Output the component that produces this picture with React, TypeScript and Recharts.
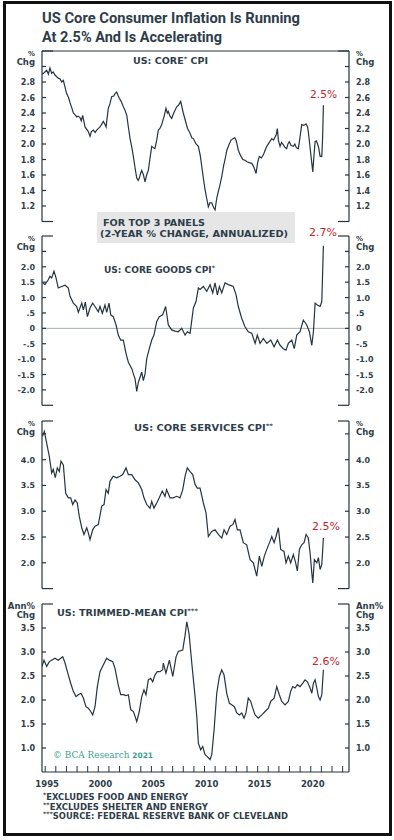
import React from "react";
import { LineChart, Line, XAxis, YAxis, ReferenceLine } from "recharts";

// values: [year, % change]
const coreCpi: [number, number][] = [
  [1994.7, 2.9], [1994.9, 2.92], [1995.14, 2.95], [1995.3, 2.9], [1995.45, 2.98], [1995.61, 2.91],
  [1995.75, 2.93], [1995.92, 2.89], [1996.23, 2.85], [1996.4, 2.84], [1996.55, 2.8], [1996.71, 2.82],
  [1997.02, 2.65], [1997.2, 2.6], [1997.34, 2.53], [1997.5, 2.47], [1997.65, 2.4], [1997.8, 2.38],
  [1997.97, 2.35], [1998.1, 2.36], [1998.28, 2.34], [1998.4, 2.3], [1998.53, 2.37], [1998.75, 2.22],
  [1999.06, 2.16], [1999.22, 2.1], [1999.35, 2.16], [1999.53, 2.18], [1999.7, 2.15], [1999.85, 2.18],
  [2000.16, 2.22], [2000.3, 2.25], [2000.47, 2.29], [2000.6, 2.26], [2000.73, 2.22], [2000.94, 2.46],
  [2001.1, 2.52], [2001.26, 2.61], [2001.45, 2.62], [2001.57, 2.65], [2001.73, 2.67], [2001.85, 2.63],
  [2001.98, 2.59], [2002.15, 2.55], [2002.36, 2.48], [2002.5, 2.44], [2002.68, 2.37], [2002.85, 2.2],
  [2002.99, 2.07], [2003.15, 1.96], [2003.3, 1.84], [2003.45, 1.7], [2003.62, 1.56], [2003.75, 1.53],
  [2003.86, 1.56], [2004.0, 1.63], [2004.09, 1.66], [2004.25, 1.6], [2004.4, 1.51], [2004.55, 1.6],
  [2004.71, 1.66], [2004.85, 1.8], [2005.03, 1.97], [2005.2, 1.95], [2005.33, 1.94], [2005.5, 2.05],
  [2005.65, 2.18], [2005.8, 2.2], [2005.97, 2.25], [2006.2, 2.36], [2006.37, 2.46], [2006.5, 2.4],
  [2006.59, 2.42], [2006.75, 2.36], [2006.91, 2.33], [2007.1, 2.4], [2007.38, 2.48], [2007.55, 2.5],
  [2007.76, 2.55], [2008.0, 2.4], [2008.2, 2.3], [2008.4, 2.2], [2008.64, 2.14], [2008.8, 2.08],
  [2008.95, 2.07], [2009.2, 2.0], [2009.42, 1.97], [2009.6, 1.85], [2009.74, 1.71], [2009.9, 1.55],
  [2010.05, 1.41], [2010.2, 1.3], [2010.36, 1.19], [2010.5, 1.24], [2010.68, 1.24], [2010.85, 1.18],
  [2010.99, 1.15], [2011.15, 1.3], [2011.3, 1.39], [2011.45, 1.47], [2011.62, 1.58], [2011.8, 1.72],
  [2011.93, 1.8], [2012.1, 1.92], [2012.3, 1.99], [2012.5, 2.05], [2012.71, 2.07], [2012.85, 2.08],
  [2012.97, 2.05], [2013.18, 1.92], [2013.4, 1.85], [2013.6, 1.8], [2013.81, 1.79], [2014.0, 1.77],
  [2014.2, 1.76], [2014.45, 1.75], [2014.65, 1.7], [2014.85, 1.62], [2015.0, 1.76], [2015.16, 1.84],
  [2015.35, 1.82], [2015.54, 1.86], [2015.7, 1.92], [2015.86, 1.97], [2016.1, 2.02], [2016.33, 2.07],
  [2016.5, 2.05], [2016.64, 2.09], [2016.75, 2.12], [2016.86, 2.2], [2016.95, 2.05], [2017.11, 1.97],
  [2017.25, 2.02], [2017.42, 1.99], [2017.55, 1.96], [2017.73, 1.94], [2017.85, 2.0], [2017.98, 2.03],
  [2018.15, 1.98], [2018.36, 1.97], [2018.5, 2.0], [2018.65, 1.95], [2018.83, 1.94], [2018.95, 2.05],
  [2019.15, 2.25], [2019.35, 2.24], [2019.56, 2.26], [2019.7, 2.22], [2019.77, 2.16], [2019.9, 2.0],
  [2020.02, 1.85], [2020.1, 1.75], [2020.19, 1.64], [2020.3, 1.85], [2020.41, 2.03], [2020.52, 2.04],
  [2020.62, 2.01], [2020.75, 1.95], [2020.88, 1.84], [2021.04, 1.84], [2021.12, 2.1], [2021.19, 2.5],
];

const coreGoods: [number, number][] = [
  [1994.77, 1.48], [1994.98, 1.42], [1995.29, 1.58], [1995.45, 1.69], [1995.61, 1.64], [1995.83, 1.86],
  [1996.02, 1.64], [1996.23, 1.31], [1996.55, 1.36], [1996.87, 1.4], [1997.18, 1.31], [1997.34, 1.04],
  [1997.65, 0.82], [1997.97, 0.71], [1998.12, 0.52], [1998.44, 0.82], [1998.59, 0.6], [1998.78, 0.85],
  [1998.97, 0.38], [1999.22, 0.66], [1999.47, 0.82], [1999.69, 0.71], [2000.0, 0.54], [2000.16, 0.71],
  [2000.38, 0.49], [2000.63, 0.76], [2000.79, 0.52], [2001.01, 0.82], [2001.17, 0.44], [2001.41, 0.38],
  [2001.67, 0.11], [2001.88, -0.22], [2002.11, -0.38], [2002.36, -0.38], [2002.61, -0.82],
  [2002.83, -1.1], [2003.15, -1.31], [2003.3, -1.48], [2003.46, -1.64], [2003.62, -2.05],
  [2003.77, -1.75], [2003.93, -1.59], [2004.09, -1.42], [2004.24, -1.7], [2004.4, -1.48],
  [2004.56, -0.98], [2004.8, -0.66], [2005.03, -0.38], [2005.24, -0.22], [2005.5, 0.22],
  [2005.74, 0.38], [2006.06, 0.44], [2006.34, 0.71], [2006.59, 0.11], [2006.91, -0.05],
  [2007.22, -0.09], [2007.53, -0.11], [2007.85, 0.0], [2008.17, -0.22], [2008.38, -0.11],
  [2008.64, -0.16], [2008.95, 0.66], [2009.2, 0.87], [2009.42, 1.31], [2009.58, 1.26], [2009.89, 1.36],
  [2010.21, 1.2], [2010.52, 1.42], [2010.77, 1.15], [2010.99, 1.48], [2011.21, 1.09], [2011.4, 1.36],
  [2011.62, 1.15], [2011.93, 1.48], [2012.24, 1.42], [2012.71, 1.36], [2012.97, 1.09], [2013.18, 0.71],
  [2013.5, 0.33], [2013.81, 0.05], [2014.12, -0.11], [2014.45, -0.16], [2014.76, -0.49],
  [2014.97, -0.22], [2015.23, -0.49], [2015.54, -0.33], [2015.86, -0.49], [2016.23, -0.38],
  [2016.55, -0.6], [2016.86, -0.38], [2017.11, -0.55], [2017.42, -0.66], [2017.67, -0.71],
  [2017.89, -0.49], [2018.21, -0.38], [2018.45, -0.66], [2018.68, -0.22], [2018.99, -0.11],
  [2019.3, 0.27], [2019.62, 0.11], [2019.87, -0.11], [2020.1, -0.55], [2020.25, -0.11], [2020.41, 0.82],
  [2020.62, 0.76], [2020.88, 0.71], [2021.04, 0.87], [2021.19, 2.68],
];

const coreServices: [number, number][] = [
  [1994.73, 4.45], [1994.92, 4.55], [1995.14, 4.32], [1995.39, 4.06], [1995.61, 3.74], [1995.76, 3.81],
  [1995.95, 3.65], [1996.14, 3.84], [1996.33, 3.77], [1996.49, 3.97], [1996.71, 3.9], [1996.93, 3.35],
  [1997.18, 3.26], [1997.4, 3.26], [1997.59, 3.13], [1997.81, 3.22], [1998.02, 3.16], [1998.21, 2.9],
  [1998.44, 2.68], [1998.65, 2.55], [1998.91, 2.68], [1999.06, 2.58], [1999.22, 2.45], [1999.47, 2.64],
  [1999.69, 2.71], [2000.0, 2.74], [2000.32, 3.1], [2000.54, 3.13], [2000.73, 3.42], [2000.94, 3.35],
  [2001.1, 3.58], [2001.41, 3.68], [2001.73, 3.65], [2002.04, 3.68], [2002.3, 3.71], [2002.61, 3.84],
  [2002.83, 3.71], [2003.15, 3.71], [2003.46, 3.61], [2003.77, 3.55], [2004.09, 3.42], [2004.3, 3.26],
  [2004.56, 3.13], [2004.87, 3.06], [2005.03, 3.19], [2005.24, 3.06], [2005.5, 3.16], [2005.74, 3.26],
  [2006.02, 3.39], [2006.28, 3.29], [2006.43, 3.42], [2006.75, 3.26], [2007.06, 3.26], [2007.38, 3.29],
  [2007.69, 3.26], [2007.95, 3.42], [2008.17, 3.68], [2008.38, 3.84], [2008.64, 3.77], [2008.89, 3.71],
  [2009.11, 3.52], [2009.32, 3.45], [2009.58, 3.45], [2009.89, 3.16], [2010.14, 2.97], [2010.36, 2.51],
  [2010.68, 2.61], [2010.99, 2.64], [2011.3, 2.55], [2011.62, 2.48], [2011.84, 2.64], [2012.09, 2.55],
  [2012.4, 2.71], [2012.66, 2.74], [2012.87, 2.84], [2013.09, 2.64], [2013.34, 2.64], [2013.65, 2.39],
  [2013.97, 2.35], [2014.29, 2.06], [2014.6, 2.0], [2014.91, 1.74], [2015.16, 2.13], [2015.39, 1.93],
  [2015.63, 2.13], [2015.86, 2.26], [2016.17, 2.42], [2016.33, 2.51], [2016.55, 2.39], [2016.73, 2.51],
  [2016.95, 2.68], [2017.17, 2.26], [2017.48, 2.22], [2017.67, 2.0], [2017.89, 2.13], [2018.11, 2.0],
  [2018.36, 2.16], [2018.58, 2.0], [2018.74, 1.84], [2018.93, 2.26], [2019.15, 2.35], [2019.37, 2.39],
  [2019.56, 2.55], [2019.77, 2.48], [2019.94, 2.19], [2020.1, 1.8], [2020.19, 1.61], [2020.34, 2.06],
  [2020.57, 2.0], [2020.72, 2.1], [2020.88, 1.87], [2021.04, 1.97], [2021.19, 2.48],
];

const trimmedMean: [number, number][] = [
  [1994.7, 2.7], [1994.89, 2.83], [1995.14, 2.7], [1995.39, 2.8], [1995.61, 2.83], [1995.92, 2.87],
  [1996.23, 2.83], [1996.46, 2.87], [1996.65, 2.9], [1996.87, 2.77], [1997.18, 2.52], [1997.4, 2.35],
  [1997.65, 2.18], [1997.9, 2.07], [1998.12, 2.11], [1998.37, 2.14], [1998.59, 2.04], [1998.84, 1.86],
  [1999.06, 1.83], [1999.29, 1.76], [1999.47, 1.69], [1999.69, 1.86], [1999.91, 2.28], [2000.16, 2.59],
  [2000.47, 2.73], [2000.79, 2.87], [2001.04, 2.83], [2001.36, 2.8], [2001.57, 2.66], [2001.88, 2.31],
  [2002.11, 2.11], [2002.36, 2.11], [2002.61, 2.09], [2002.83, 2.11], [2003.05, 1.8], [2003.3, 1.76],
  [2003.46, 1.66], [2003.62, 1.55], [2003.86, 1.76], [2004.09, 2.07], [2004.3, 2.21], [2004.49, 2.11],
  [2004.71, 2.42], [2004.93, 2.45], [2005.12, 2.38], [2005.33, 2.52], [2005.55, 2.59], [2005.81, 2.59],
  [2006.06, 2.63], [2006.12, 2.77], [2006.37, 2.56], [2006.69, 2.83], [2007.01, 2.49], [2007.32, 2.9],
  [2007.53, 3.01], [2007.95, 3.04], [2008.17, 3.35], [2008.33, 3.63], [2008.54, 3.39], [2008.8, 2.77],
  [2009.11, 2.07], [2009.27, 1.66], [2009.42, 1.1], [2009.64, 0.96], [2009.83, 1.03], [2010.05, 0.86],
  [2010.26, 0.82], [2010.52, 0.76], [2010.68, 0.86], [2010.9, 1.38], [2011.15, 2.14], [2011.4, 2.49],
  [2011.62, 2.63], [2011.84, 2.52], [2012.09, 2.14], [2012.34, 1.93], [2012.56, 1.9], [2012.81, 1.86],
  [2013.03, 1.73], [2013.28, 1.69], [2013.5, 1.73], [2013.72, 1.62], [2013.9, 1.73], [2014.12, 2.04],
  [2014.35, 1.97], [2014.54, 1.83], [2014.76, 1.69], [2015.06, 1.62], [2015.39, 1.69], [2015.7, 1.76],
  [2016.01, 1.83], [2016.23, 1.97], [2016.55, 2.04], [2016.8, 2.28], [2017.04, 2.11], [2017.27, 1.97],
  [2017.58, 1.9], [2017.89, 1.97], [2018.11, 2.18], [2018.3, 2.28], [2018.52, 2.25], [2018.74, 2.32],
  [2018.99, 2.28], [2019.25, 2.35], [2019.46, 2.42], [2019.68, 2.38], [2019.94, 2.25], [2020.1, 2.14],
  [2020.25, 2.35], [2020.41, 2.42], [2020.57, 2.25], [2020.72, 2.07], [2020.88, 2.0], [2021.04, 2.11],
  [2021.19, 2.63],
];

const yearTicks = Array.from({ length: 29 }, (_, i) => 1995 + i);
const X_DOMAIN: [number, number] = [1994.7, 2023.6];

const cpiTicks = [1.0, 1.2, 1.4, 1.6, 1.8, 2.0, 2.2, 2.4, 2.6, 2.8, 3.0, 3.2];
const goodsTicks = [-2.5, -2.0, -1.5, -1.0, -0.5, 0, 0.5, 1.0, 1.5, 2.0, 2.5, 3.0];
const servicesTicks = [1.5, 2.0, 2.5, 3.0, 3.5, 4.0, 4.5, 4.75];
const trimmedTicks = [0.5, 1.0, 1.5, 2.0, 2.5, 3.0, 3.5, 4.0];

const INK = "#26343f";
const TEXT = "#2e3d4a";
const RED = "#c4262e";
const SANS = "'DejaVu Sans', sans-serif";

type Panel = {
  data: [number, number][];
  domain: [number, number];
  ticks: number[];
  labeled: number[];
  fmt: (v: number) => string;
  unit: string;
  top: number;
  bottom: number;
  zeroLine?: boolean;
  topRule?: boolean;
  isLast?: boolean;
};

const oneDec = (v: number) => v.toFixed(1);
const goodsFmt = (v: number) => {
  if (v === 0) return "0";
  if (Math.abs(v) < 1) return (v < 0 ? "-" : "") + ".5";
  return v.toFixed(1);
};

const panels: Panel[] = [
  { data: coreCpi, domain: [1.0, 3.2], ticks: cpiTicks, labeled: cpiTicks.slice(1, 10), fmt: oneDec, unit: "%", top: 51, bottom: 221.5, topRule: true },
  { data: coreGoods, domain: [-2.5, 3.0], ticks: goodsTicks, labeled: goodsTicks.slice(1, 10), fmt: goodsFmt, unit: "%", top: 235.7, bottom: 405, zeroLine: true },
  { data: coreServices, domain: [1.5, 4.75], ticks: servicesTicks, labeled: [2.0, 2.5, 3.0, 3.5, 4.0], fmt: oneDec, unit: "%", top: 420.7, bottom: 588.3 },
  { data: trimmedMean, domain: [0.5, 4.0], ticks: trimmedTicks, labeled: [1.0, 1.5, 2.0, 2.5, 3.0, 3.5], fmt: oneDec, unit: "Ann%", top: 604, bottom: 772, isLast: true },
];

const near = (a: number, b: number) => Math.abs(a - b) < 1e-6;

const makeYTick = (side: "left" | "right", p: Panel) => (props: any) => {
  const { x, y, payload } = props;
  const v = payload.value as number;
  const inward = side === "left" ? 1 : -1;
  const isTop = near(v, p.domain[1]);
  const isBottom = near(v, p.domain[0]);
  const len = isTop || isBottom ? 11 : 4;
  const tx = side === "left" ? x - 7 : x + 7;
  const anchor = side === "left" ? "end" : "start";
  const showLine = !(isBottom && p.isLast);
  const label = p.labeled.some((l) => near(l, v)) ? p.fmt(v) : null;
  return (
    <g>
      {showLine && (
        <line x1={x} x2={x + inward * len} y1={y} y2={y} stroke={INK} strokeWidth={1.2} />
      )}
      {isTop && (
        <>
          <text x={tx} y={y + 5} textAnchor={anchor} fontFamily={SANS} fontWeight={700}
            fontSize={p.unit === "%" ? 7 : 8.5} fill={TEXT}>{p.unit}</text>
          <text x={tx} y={y + 14} textAnchor={anchor} fontFamily={SANS} fontWeight={700}
            fontSize={8.5} fill={TEXT}>Chg</text>
        </>
      )}
      {label && (
        <text x={tx} y={y + 3} textAnchor={anchor} fontFamily={SANS} fontWeight={700}
          fontSize={8} fill={TEXT}>{label}</text>
      )}
    </g>
  );
};

const YearTick = (props: any) => {
  const { x, y, payload } = props;
  const yr = payload.value as number;
  return (
    <g>
      <line x1={x} x2={x} y1={y} y2={y - 6} stroke={INK} strokeWidth={1} />
      {yr % 5 === 0 && yr <= 2020 && (
        <text x={x + 2} y={y + 15} textAnchor="middle" fontFamily={SANS} fontWeight={700}
          fontSize={8.5} fill={TEXT}>{yr}</text>
      )}
    </g>
  );
};

const PanelChart = ({ p }: { p: Panel }) => {
  const data = p.data.map(([year, value]) => ({ year, value }));
  const pad = 12;
  const bottomMargin = p.isLast ? 2 : pad;
  const xAxisH = p.isLast ? 30 : 0;
  const plotH = p.bottom - p.top;
  return (
    <div style={{ position: "absolute", left: 0, top: p.top - pad }}>
      <LineChart
        width={394}
        height={plotH + pad + bottomMargin + xAxisH}
        data={data}
        margin={{ top: pad, bottom: bottomMargin, left: 6, right: 9 }}
      >
        <XAxis
          type="number"
          dataKey="year"
          domain={X_DOMAIN}
          ticks={yearTicks}
          interval={0}
          hide={!p.isLast}
          height={xAxisH}
          allowDataOverflow
          tickLine={false}
          tickSize={0}
          tickMargin={0}
          axisLine={{ stroke: INK, strokeWidth: 1.2 }}
          tick={YearTick}
        />
        <YAxis
          yAxisId="l"
          orientation="left"
          domain={p.domain}
          ticks={p.ticks}
          interval={0}
          width={36}
          allowDataOverflow
          tickLine={false}
          tickSize={0}
          tickMargin={0}
          axisLine={{ stroke: INK, strokeWidth: 1.2 }}
          tick={makeYTick("left", p)}
        />
        <YAxis
          yAxisId="r"
          orientation="right"
          domain={p.domain}
          ticks={p.ticks}
          interval={0}
          width={36}
          allowDataOverflow
          tickLine={false}
          tickSize={0}
          tickMargin={0}
          axisLine={{ stroke: INK, strokeWidth: 1.2 }}
          tick={makeYTick("right", p)}
        />
        {p.zeroLine && <ReferenceLine yAxisId="l" y={0} stroke="#8f999f" strokeWidth={0.8} />}
        {p.topRule && <ReferenceLine yAxisId="l" y={p.domain[1]} stroke={INK} strokeWidth={1} />}
        <Line
          yAxisId="l"
          type="linear"
          dataKey="value"
          stroke={INK}
          strokeWidth={1.2}
          dot={false}
          isAnimationActive={false}
        />
      </LineChart>
    </div>
  );
};

const Sup = ({ s }: { s: string }) => (
  <tspan fontSize={6} dy={-3}>{s}</tspan>
);

const App = () => {
  const label = { fontFamily: SANS, fontWeight: 700, fontSize: 8.5, fill: TEXT } as const;
  const red = { fontFamily: SANS, fontWeight: 500, fontSize: 10.5, fill: RED } as const;
  const note = { fontFamily: SANS, fontWeight: 700, fontSize: 8, fill: TEXT } as const;
  return (
    <div style={{ position: "absolute", left: 0, top: 0, width: 394, height: 840, background: "#fff" }}>
      <div
        style={{
          position: "absolute", left: 3, top: 1, width: 389, height: 835,
          border: "3px solid #111", boxSizing: "border-box",
        }}
      />
      <svg width={394} height={840} style={{ position: "absolute", left: 0, top: 0 }}>
        <text x={42} y={23} fontFamily="Roboto, sans-serif" fontWeight={700} fontSize={15.5}
          fill={TEXT} textLength={258} lengthAdjust="spacingAndGlyphs">
          US Core Consumer Inflation Is Running
        </text>
        <text x={42} y={41.5} fontFamily="Roboto, sans-serif" fontWeight={700} fontSize={15.5}
          fill={TEXT} textLength={180} lengthAdjust="spacingAndGlyphs">
          At 2.5% And Is Accelerating
        </text>

        <rect x={97} y={212} width={198} height={31} fill="#e6e6e6" />
        <text x={103} y={225.5} {...label} textLength={102} lengthAdjust="spacingAndGlyphs">
          FOR TOP 3 PANELS
        </text>
        <text x={100} y={237} {...label} textLength={188} lengthAdjust="spacingAndGlyphs">
          (2-YEAR % CHANGE, ANNUALIZED)
        </text>

        <text x={133} y={63.5} {...label} textLength={75} lengthAdjust="spacingAndGlyphs">
          US: CORE<Sup s="*" /><tspan dy={3}> CPI</tspan>
        </text>
        <text x={104} y={272.5} {...label} textLength={111} lengthAdjust="spacingAndGlyphs">
          US: CORE GOODS CPI<Sup s="*" />
        </text>
        <text x={134} y={431} {...label} textLength={139} lengthAdjust="spacingAndGlyphs">
          US: CORE SERVICES CPI<Sup s="**" />
        </text>
        <text x={57} y={616} {...label} textLength={141} lengthAdjust="spacingAndGlyphs">
          US: TRIMMED-MEAN CPI<Sup s="***" />
        </text>

        <text x={310} y={98} {...red} textLength={27} lengthAdjust="spacingAndGlyphs">2.5%</text>
        <text x={309} y={236} {...red} textLength={28} lengthAdjust="spacingAndGlyphs">2.7%</text>
        <text x={312} y={530} {...red} textLength={28} lengthAdjust="spacingAndGlyphs">2.5%</text>
        <text x={312} y={665} {...red} textLength={28} lengthAdjust="spacingAndGlyphs">2.6%</text>

        <text x={53} y={757.5} fill="#3e9e8c" textLength={100} lengthAdjust="spacingAndGlyphs">
          <tspan fontFamily="'DejaVu Serif', serif" fontSize={9}>© BCA Research </tspan>
          <tspan fontFamily={SANS} fontWeight={700} fontSize={7.5}>2021</tspan>
        </text>

        <text x={43} y={800} {...note} textLength={145} lengthAdjust="spacingAndGlyphs">
          <Sup s="*" /><tspan dy={3}>EXCLUDES FOOD AND ENERGY</tspan>
        </text>
        <text x={43} y={809.5} {...note} textLength={165} lengthAdjust="spacingAndGlyphs">
          <Sup s="**" /><tspan dy={3}>EXCLUDES SHELTER AND ENERGY</tspan>
        </text>
        <text x={43} y={819} {...note} textLength={245} lengthAdjust="spacingAndGlyphs">
          <Sup s="***" /><tspan dy={3}>SOURCE: FEDERAL RESERVE BANK OF CLEVELAND</tspan>
        </text>
      </svg>
      {panels.map((p, i) => (
        <PanelChart key={i} p={p} />
      ))}
    </div>
  );
};

export default App;
